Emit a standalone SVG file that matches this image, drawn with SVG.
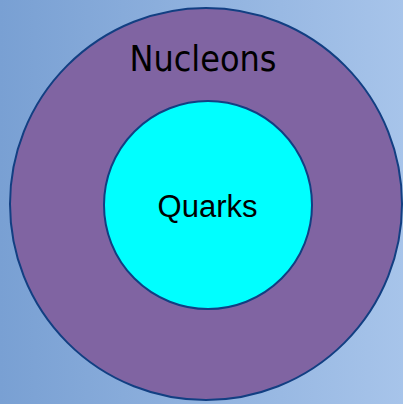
<svg xmlns="http://www.w3.org/2000/svg" width="403" height="404" viewBox="0 0 403 404">
<defs>
<linearGradient id="bg" x1="0" y1="0" x2="1" y2="0">
<stop offset="0" stop-color="#79a0d3"/>
<stop offset="1" stop-color="#a7c4ea"/>
</linearGradient>
<style>
.ring{stroke:#123f82;stroke-width:2}
.lbl{fill:#000;text-anchor:middle}
</style>
</defs>
<rect x="0" y="0" width="403" height="404" fill="url(#bg)"/>
<g id="nucleons">
<circle class="ring" cx="206" cy="204" r="196" fill="#8064a2"/>
<text class="lbl" x="203" y="71" font-family="'DejaVu Sans Condensed','DejaVu Sans',sans-serif" font-size="36" textLength="147" lengthAdjust="spacingAndGlyphs">Nucleons</text>
</g>
<g id="quarks">
<circle class="ring" cx="208" cy="205" r="104" fill="#00ffff"/>
<text class="lbl" x="207.5" y="217" font-family="'Liberation Sans',Arial,sans-serif" font-size="31">Quarks</text>
</g>
<g id="connectors"/>
</svg>
